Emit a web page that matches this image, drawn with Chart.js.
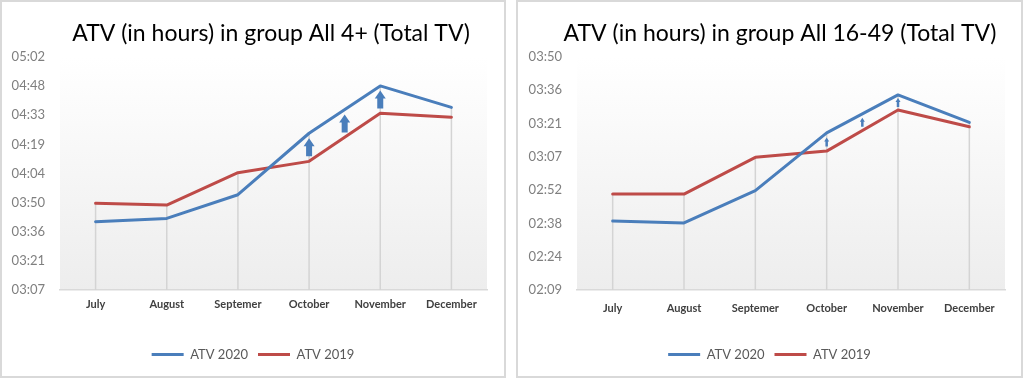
<!DOCTYPE html>
<html><head><meta charset="utf-8">
<script src="https://cdn.jsdelivr.net/npm/chart.js@4"></script>
<style>
html,body{margin:0;padding:0;background:#fff;width:1024px;height:380px;overflow:hidden}
.box{position:absolute;top:0;height:374px;border:2px solid #d9d9d9;background:#fff}
#b1{left:0;width:502px}
#b2{left:516px;width:503px}
canvas{display:block}
</style></head><body>
<div class="box" id="b1"><canvas id="c1" width="502" height="374"></canvas></div>
<div class="box" id="b2"><canvas id="c2" width="503" height="374"></canvas></div>
<script>
// ---- data (values in minutes) ----
const categories = ['July','August','Septemer','October','November','December'];
const seriesNames = ['ATV 2020','ATV 2019'];
const all4_2020 = [221.0, 222.6, 234.3, 264.7, 288.1, 277.5];
const all4_2019 = [230.1, 229.2, 245.2, 250.8, 274.6, 272.6];
const all1649_2020 = [159.4, 158.6, 172.6, 197.6, 214.0, 202.1];
const all1649_2019 = [171.1, 171.1, 187.0, 189.7, 207.5, 200.2];
const all4Ticks = ['03:07','03:21','03:36','03:50','04:04','04:19','04:33','04:48','05:02'];
const all1649Ticks = ['02:09','02:24','02:38','02:52','03:07','03:21','03:36','03:50'];
const all4AxisStart = 187.2;     // 0.13 day
const all1649AxisStart = 129.6;  // 0.09 day
const axisStep = 14.4;           // 0.01 day
const arrowPositions = [3, 3.5, 4];
const titles = ['ATV (in hours) in group All 4+ (Total TV)', 'ATV (in hours) in group All 16-49 (Total TV)'];

const BLUE = '#4a7ebb', RED = '#be4b48';

const bgPlugin = {
  id: 'plotBg',
  beforeDraw(chart) {
    const {ctx, chartArea: a} = chart;
    const g = ctx.createLinearGradient(0, a.top, 0, a.bottom);
    g.addColorStop(0, '#ffffff');
    g.addColorStop(0.12, '#fdfdfd');
    g.addColorStop(1, '#ededed');
    ctx.save();
    ctx.fillStyle = g;
    ctx.fillRect(a.left, a.top, a.right - a.left, a.bottom - a.top);
    ctx.restore();
  }
};

const dropPlugin = {
  id: 'dropLines',
  beforeDatasetsDraw(chart) {
    const {ctx, chartArea: a, scales: {x, y}} = chart;
    const ds = chart.data.datasets;
    ctx.save();
    ctx.strokeStyle = '#d4d4d4';
    ctx.lineWidth = 1.5;
    chart.data.labels.forEach((_, i) => {
      const top = Math.max(...ds.map(d => d.data[i]));
      const px = x.getPixelForValue(i);
      ctx.beginPath();
      ctx.moveTo(px, y.getPixelForValue(top));
      ctx.lineTo(px, a.bottom);
      ctx.stroke();
    });
    ctx.restore();
  }
};

const arrowPlugin = {
  id: 'gainArrows',
  afterDatasetsDraw(chart, args, o) {
    const {ctx, scales: {x, y}} = chart;
    const [hi, lo] = chart.data.datasets.map(d => d.data);
    const interp = (arr, p) => { const i = Math.floor(p), f = p - i; return f ? arr[i] * (1 - f) + arr[i + 1] * f : arr[i]; };
    ctx.save();
    ctx.fillStyle = o.color;
    o.at.forEach(p => {
      const cx = x.getPixelForValue(p);
      const mid = (y.getPixelForValue(interp(hi, p)) + y.getPixelForValue(interp(lo, p))) / 2;
      const top = mid - o.length / 2, bot = mid + o.length / 2;
      ctx.beginPath();
      ctx.moveTo(cx, top);
      ctx.lineTo(cx + o.head / 2, top + o.headLen);
      ctx.lineTo(cx + o.shaft / 2, top + o.headLen);
      ctx.lineTo(cx + o.shaft / 2, bot);
      ctx.lineTo(cx - o.shaft / 2, bot);
      ctx.lineTo(cx - o.shaft / 2, top + o.headLen);
      ctx.lineTo(cx - o.head / 2, top + o.headLen);
      ctx.closePath();
      ctx.fill();
    });
    ctx.restore();
  }
};

const titlePlugin = {
  id: 'plotTitle',
  afterDraw(chart, args, o) {
    const {ctx, chartArea: a} = chart;
    ctx.save();
    ctx.font = o.font;
    ctx.fillStyle = o.color;
    ctx.textAlign = 'center';
    ctx.textBaseline = 'alphabetic';
    ctx.fillText(o.text, (a.left + a.right) / 2 + o.dx, o.baseline);
    ctx.restore();
  }
};

function makeChart(id, v2020, v2019, tickLabels, axisStart, title, cfg) {
  return new Chart(document.getElementById(id), {
    type: 'line',
    data: {
      labels: categories,
      datasets: [
        {label: seriesNames[0], data: v2020, borderColor: BLUE, backgroundColor: BLUE, borderWidth: 3,
         pointRadius: 0, tension: 0, borderJoinStyle: 'round', borderCapStyle: 'round', yAxisID: 'y'},
        {label: seriesNames[1], data: v2019, borderColor: RED, backgroundColor: RED, borderWidth: 3,
         pointRadius: 0, tension: 0, borderJoinStyle: 'round', borderCapStyle: 'round', yAxisID: 'y'}
      ]
    },
    options: {
      responsive: false, animation: false, devicePixelRatio: 1,
      layout: {padding: {top: 55, left: 0, right: 0, bottom: cfg.bottomPad}},
      scales: {
        x: {
          offset: true,
          grid: {display: false, drawTicks: false},
          border: {display: true, color: '#d9d9d9', width: 1.5},
          ticks: {font: {family: 'Lato', size: 11, weight: 'bold'}, color: '#404040', padding: cfg.xPad, maxRotation: 0, autoSkip: false},
          afterFit(s) { s.height = cfg.xHeight; }
        },
        y: {
          position: 'left',
          min: axisStart, max: axisStart + axisStep * (tickLabels.length - 1),
          grid: {display: false, drawTicks: false},
          border: {display: false},
          afterBuildTicks(s) { s.ticks = tickLabels.map((_, i) => ({value: axisStart + i * axisStep})); },
          ticks: {callback: (v, i) => tickLabels[i], font: {family: 'Lato', size: 13}, color: '#7f7f7f', padding: 15},
          afterFit(s) { s.width = cfg.yWidth; }
        },
        y2: {
          position: 'right', display: true,
          grid: {display: false, drawTicks: false}, border: {display: false},
          ticks: {display: false},
          afterFit(s) { s.width = cfg.rightWidth; }
        }
      },
      plugins: {
        title: {display: false},
        tooltip: {enabled: false},
        legend: {
          position: 'bottom',
          labels: {
            font: {family: 'Lato', size: 13}, color: '#595959', boxWidth: 32, boxHeight: 3, padding: 10,
            generateLabels(chart) {
              return chart.data.datasets.map((d, i) => ({text: d.label, fillStyle: d.borderColor, strokeStyle: d.borderColor,
                lineWidth: 0, hidden: false, datasetIndex: i, fontColor: '#595959'}));
            }
          }
        },
        plotTitle: {text: title, font: '23px Lato', color: '#000000', dx: cfg.titleDx, baseline: 39},
        gainArrows: {at: arrowPositions, color: BLUE, length: cfg.arrowLen, head: cfg.arrowHead, shaft: cfg.arrowShaft, headLen: cfg.arrowHeadLen}
      }
    },
    plugins: [bgPlugin, dropPlugin, arrowPlugin, titlePlugin]
  });
}

makeChart('c1', all4_2020, all4_2019, all4Ticks, all4AxisStart, titles[0],
  {bottomPad: 5, xPad: 8, xHeight: 48, yWidth: 58, rightWidth: 17, titleDx: -2.5,
   arrowLen: 18, arrowHead: 11, arrowShaft: 6, arrowHeadLen: 8});
makeChart('c2', all1649_2020, all1649_2019, all1649Ticks, all1649AxisStart, titles[1],
  {bottomPad: 5, xPad: 12, xHeight: 48, yWidth: 59, rightWidth: 16, titleDx: -11,
   arrowLen: 9, arrowHead: 5, arrowShaft: 2.5, arrowHeadLen: 4});
</script>
</body></html>
